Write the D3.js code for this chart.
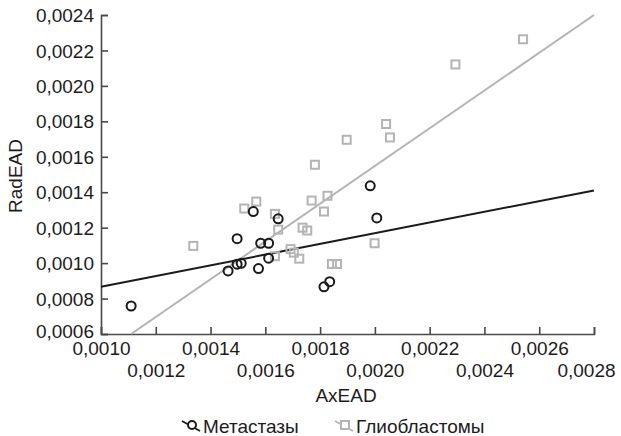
<!DOCTYPE html>
<html>
<head>
<meta charset="utf-8">
<script src="https://cdn.jsdelivr.net/npm/d3@7"></script>
<style>
  html, body { margin: 0; padding: 0; background: #fff; }
  svg { display: block; font-family: "Liberation Sans", Arial, Helvetica, sans-serif; }
</style>
</head>
<body>
<svg id="chart" width="621" height="436"></svg>
<script>
// Метастазы (circles)
const metX = [0.00111, 0.001464, 0.001497, 0.001497, 0.001512, 0.001556, 0.001575, 0.001583,
  0.001612, 0.001612, 0.001647, 0.001983, 0.002007, 0.001814, 0.001835];
const metY = [0.000758, 0.000956, 0.001138, 0.000994, 0.000999, 0.001291, 0.000969, 0.001112,
  0.001112, 0.001028, 0.00125, 0.001436, 0.001255, 0.000866, 0.000895];

// Глиобластомы (squares)
const gliX = [0.001337, 0.001523, 0.001567, 0.001635, 0.001647, 0.001635, 0.001692, 0.001704,
  0.001724, 0.001736, 0.001753, 0.001769, 0.001827, 0.001814, 0.001843, 0.001862,
  0.001999, 0.001781, 0.001897, 0.002041, 0.002055, 0.002294, 0.002541];
const gliY = [0.001097, 0.001308, 0.001347, 0.001278, 0.001189, 0.001039, 0.001079, 0.001059,
  0.001025, 0.0012, 0.001184, 0.001353, 0.00138, 0.001291, 0.000995, 0.000995,
  0.001112, 0.001555, 0.001696, 0.001785, 0.001709, 0.002121, 0.002263];

// fitted lines, endpoints [x, y]
const metFit = [[0.0010, 0.000867], [0.0028, 0.00141]];
const gliFit = [[0.00111, 0.0006], [0.0028, 0.0024]];

const xTicks = [0.0010, 0.0012, 0.0014, 0.0016, 0.0018, 0.0020, 0.0022, 0.0024, 0.0026, 0.0028];
const yTicks = [0.0006, 0.0008, 0.0010, 0.0012, 0.0014, 0.0016, 0.0018, 0.0020, 0.0022, 0.0024];

const seriesNames = ["Метастазы", "Глиобластомы"];

const svg = d3.select("#chart");
const textColor = "#1e1b1c";
const axisColor = "#4a4a4a";
const metColor = "#1a1a1a";
const gliColor = "#b4b4b4";

const x = d3.scaleLinear().domain([0.0010, 0.0028]).range([101, 594]);
const y = d3.scaleLinear().domain([0.0006, 0.0024]).range([334, 15]);

const fmt = d => d3.format(".4f")(d).replace(".", ",");

// axes
const yAxis = svg.append("g")
    .attr("transform", `translate(${x.range()[0]},0)`)
    .call(d3.axisLeft(y).tickValues(yTicks).tickFormat(fmt).tickSize(-7).tickPadding(7));

const xAxis = svg.append("g")
    .attr("transform", `translate(0,${y.range()[0]})`)
    .call(d3.axisBottom(x).tickValues(xTicks).tickFormat(fmt).tickSize(-7).tickPadding(7));

[xAxis, yAxis].forEach(g => {
  g.select(".domain").attr("stroke", axisColor).attr("stroke-width", 1.6);
  g.selectAll(".tick line").attr("stroke", axisColor).attr("stroke-width", 1.6);
  g.selectAll(".tick text")
      .attr("fill", textColor)
      .attr("font-size", 19)
      .attr("font-family", "Liberation Sans, Arial, Helvetica, sans-serif");
});

yAxis.selectAll(".tick text")
    .attr("x", -7)
    .attr("dy", "0.35em")
    .attr("y", (d, i) => i === 0 ? -3 : 0);
xAxis.selectAll(".tick text")
    .attr("dy", 0)
    .attr("y", (d, i) => i % 2 === 0 ? 21 : 43)
    .attr("x", (d, i) => i === xTicks.length - 1 ? -8 : 0);

// axis titles
svg.append("text")
    .attr("x", 346)
    .attr("y", 402)
    .attr("text-anchor", "middle")
    .attr("font-size", 19)
    .attr("fill", textColor)
    .text("AxEAD");

svg.append("text")
    .attr("transform", "translate(22,176) rotate(-90)")
    .attr("text-anchor", "middle")
    .attr("font-size", 19)
    .attr("fill", textColor)
    .text("RadEAD");

// fit lines
const line = d3.line().x(d => x(d[0])).y(d => y(d[1]));

svg.append("path")
    .attr("d", line(gliFit))
    .attr("fill", "none")
    .attr("stroke", gliColor)
    .attr("stroke-width", 2);

svg.append("path")
    .attr("d", line(metFit))
    .attr("fill", "none")
    .attr("stroke", metColor)
    .attr("stroke-width", 2);

// points
const sq = 8;
svg.append("g")
  .selectAll("rect")
  .data(d3.zip(gliX, gliY))
  .join("rect")
    .attr("x", d => x(d[0]) - sq / 2)
    .attr("y", d => y(d[1]) - sq / 2)
    .attr("width", sq)
    .attr("height", sq)
    .attr("fill", "none")
    .attr("stroke", gliColor)
    .attr("stroke-width", 2);

svg.append("g")
  .selectAll("circle")
  .data(d3.zip(metX, metY))
  .join("circle")
    .attr("cx", d => x(d[0]))
    .attr("cy", d => y(d[1]))
    .attr("r", 4.5)
    .attr("fill", "none")
    .attr("stroke", metColor)
    .attr("stroke-width", 2);

// legend
const legend = svg.append("g");
const items = [
  { name: seriesNames[0], x0: 182, color: metColor, shape: "circle" },
  { name: seriesNames[1], x0: 335, color: gliColor, shape: "rect" }
];
items.forEach(it => {
  const g = legend.append("g").attr("transform", `translate(${it.x0},0)`);
  g.append("line")
      .attr("x1", 0).attr("y1", 421)
      .attr("x2", 18).attr("y2", 431)
      .attr("stroke", it.color)
      .attr("stroke-width", 1.8);
  if (it.shape === "circle") {
    g.append("circle")
        .attr("cx", 10).attr("cy", 425).attr("r", 4)
        .attr("fill", "#fff")
        .attr("stroke", it.color)
        .attr("stroke-width", 2);
  } else {
    g.append("rect")
        .attr("x", 6).attr("y", 421).attr("width", 8).attr("height", 8)
        .attr("fill", "#fff")
        .attr("stroke", it.color)
        .attr("stroke-width", 2);
  }
  g.append("text")
      .attr("x", 21)
      .attr("y", 433)
      .attr("font-size", 19)
      .attr("fill", textColor)
      .text(it.name);
});
</script>
</body>
</html>
